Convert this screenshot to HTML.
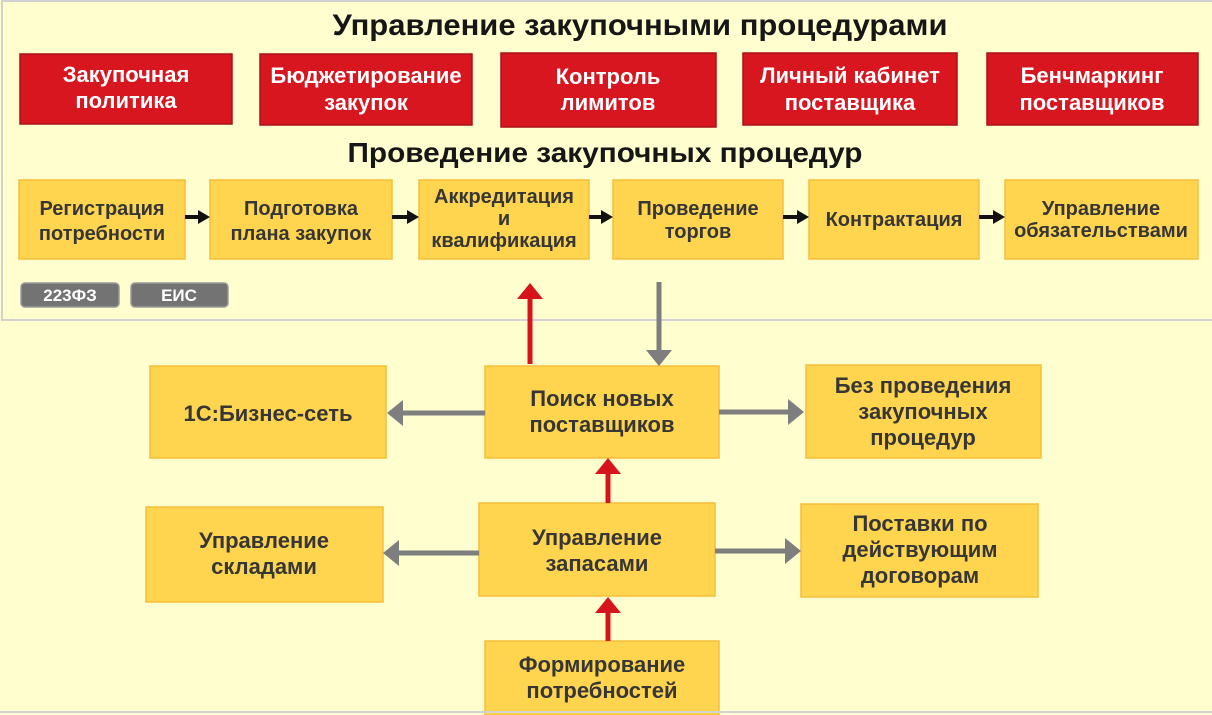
<!DOCTYPE html>
<html><head><meta charset="utf-8">
<style>
html,body{margin:0;padding:0;background:#fffecf;}
svg{display:block;}
text{font-family:"Liberation Sans",Arial,sans-serif;font-weight:bold;text-anchor:middle;}
.y{fill:#363636;font-size:20px;}
.r{fill:#ffffff;font-size:22px;}
.l{fill:#363636;font-size:22px;}
</style></head>
<body>
<svg width="1212" height="715" viewBox="0 0 1212 715" xmlns="http://www.w3.org/2000/svg">
<rect x="0" y="0" width="1212" height="715" fill="#fffecf"/>
<!-- top panel -->
<rect x="2" y="1" width="1212" height="319" fill="#fffecf" stroke="#d2d2d2" stroke-width="2"/>

<text x="640" y="35" font-size="30" fill="#161616" textLength="615" lengthAdjust="spacingAndGlyphs">Управление закупочными процедурами</text>

<!-- red boxes -->
<g fill="#d7161f" stroke="#a91219" stroke-width="1.5">
<rect x="20" y="54" width="212" height="70"/>
<rect x="260" y="54" width="212" height="71"/>
<rect x="501" y="53" width="215" height="74"/>
<rect x="743" y="53" width="214" height="72"/>
<rect x="987" y="53" width="211" height="72"/>
</g>
<text class="r" x="126" y="82">Закупочная</text>
<text class="r" x="126" y="108">политика</text>
<text class="r" x="366" y="83">Бюджетирование</text>
<text class="r" x="366" y="110">закупок</text>
<text class="r" x="608" y="84">Контроль</text>
<text class="r" x="608" y="110">лимитов</text>
<text class="r" x="850" y="83">Личный кабинет</text>
<text class="r" x="850" y="110">поставщика</text>
<text class="r" x="1092" y="83">Бенчмаркинг</text>
<text class="r" x="1092" y="110">поставщиков</text>

<text x="605" y="162" font-size="28" fill="#161616" textLength="515" lengthAdjust="spacingAndGlyphs">Проведение закупочных процедур</text>

<!-- yellow process row -->
<g fill="#ffd54f" stroke="#f6bd3a" stroke-width="1.5">
<rect x="19" y="180" width="166" height="79"/>
<rect x="210" y="180" width="182" height="79"/>
<rect x="419" y="180" width="170" height="79"/>
<rect x="613" y="180" width="170" height="79"/>
<rect x="809" y="180" width="170" height="79"/>
<rect x="1005" y="180" width="193" height="79"/>
</g>
<text class="y" x="102" y="215">Регистрация</text>
<text class="y" x="102" y="240">потребности</text>
<text class="y" x="301" y="215">Подготовка</text>
<text class="y" x="301" y="240">плана закупок</text>
<text class="y" x="504" y="203" font-size="16">Аккредитация</text>
<text class="y" x="504" y="225" font-size="16">и</text>
<text class="y" x="504" y="247" font-size="16">квалификация</text>
<text class="y" x="698" y="215">Проведение</text>
<text class="y" x="698" y="238">торгов</text>
<text class="y" x="894" y="226">Контрактация</text>
<text class="y" x="1101" y="215" font-size="17">Управление</text>
<text class="y" x="1101" y="237" font-size="17">обязательствами</text>

<!-- black arrows -->
<g stroke="#111" stroke-width="4" fill="#111">
<line x1="185" y1="217" x2="200" y2="217"/>
<line x1="392" y1="217" x2="410" y2="217"/>
<line x1="589" y1="217" x2="604" y2="217"/>
<line x1="783" y1="217" x2="800" y2="217"/>
<line x1="979" y1="217" x2="996" y2="217"/>
</g>
<g fill="#111">
<polygon points="198,210 210,217 198,224"/>
<polygon points="407,210 419,217 407,224"/>
<polygon points="601,210 613,217 601,224"/>
<polygon points="797,210 809,217 797,224"/>
<polygon points="993,210 1005,217 993,224"/>
</g>

<!-- badges -->
<rect x="21" y="283" width="98" height="24" rx="4" fill="#737373" stroke="#9a9a9a" stroke-width="1.5"/>
<rect x="131" y="283" width="97" height="24" rx="4" fill="#737373" stroke="#9a9a9a" stroke-width="1.5"/>
<text x="70" y="301" font-size="17" fill="#fff">223ФЗ</text>
<text x="179" y="301" font-size="17" fill="#fff">ЕИС</text>

<!-- lower boxes -->
<g fill="#ffd54f" stroke="#f6bd3a" stroke-width="1.5">
<rect x="150" y="366" width="236" height="92"/>
<rect x="485" y="366" width="234" height="92"/>
<rect x="806" y="365" width="235" height="93"/>
<rect x="146" y="507" width="237" height="95"/>
<rect x="479" y="503" width="236" height="93"/>
<rect x="801" y="504" width="237" height="93"/>
<rect x="485" y="641" width="234" height="74"/>
</g>
<line x1="0" y1="712" x2="1212" y2="712" stroke="#d2d2d2" stroke-width="2"/>

<text class="l" x="268" y="421">1С:Бизнес-сеть</text>
<text class="l" x="602" y="406">Поиск новых</text>
<text class="l" x="602" y="432">поставщиков</text>
<text class="l" x="923" y="393">Без проведения</text>
<text class="l" x="923" y="419">закупочных</text>
<text class="l" x="923" y="445">процедур</text>
<text class="l" x="264" y="548">Управление</text>
<text class="l" x="264" y="574">складами</text>
<text class="l" x="597" y="545">Управление</text>
<text class="l" x="597" y="571">запасами</text>
<text class="l" x="920" y="531">Поставки по</text>
<text class="l" x="920" y="557">действующим</text>
<text class="l" x="920" y="583">договорам</text>
<text class="l" x="602" y="672">Формирование</text>
<text class="l" x="602" y="698">потребностей</text>

<!-- gray arrows -->
<g stroke="#7e7e7e" stroke-width="5">
<line x1="659" y1="282" x2="659" y2="352"/>
<line x1="485" y1="413" x2="401" y2="413"/>
<line x1="479" y1="553" x2="397" y2="553"/>
<line x1="719" y1="412" x2="790" y2="412"/>
<line x1="715" y1="551" x2="787" y2="551"/>
</g>
<g fill="#7e7e7e">
<polygon points="646,350 672,350 659,366"/>
<polygon points="403,400 403,426 387,413"/>
<polygon points="399,540 399,566 383,553"/>
<polygon points="788,399 788,425 804,412"/>
<polygon points="785,538 785,564 801,551"/>
</g>

<!-- red arrows -->
<g stroke="#d7141c" stroke-width="5">
<line x1="530" y1="364" x2="530" y2="297"/>
<line x1="608" y1="503" x2="608" y2="472"/>
<line x1="608" y1="641" x2="608" y2="611"/>
</g>
<g fill="#d7141c">
<polygon points="517,299 543,299 530,283"/>
<polygon points="595,474 621,474 608,458"/>
<polygon points="595,613 621,613 608,597"/>
</g>
</svg>
</body></html>
